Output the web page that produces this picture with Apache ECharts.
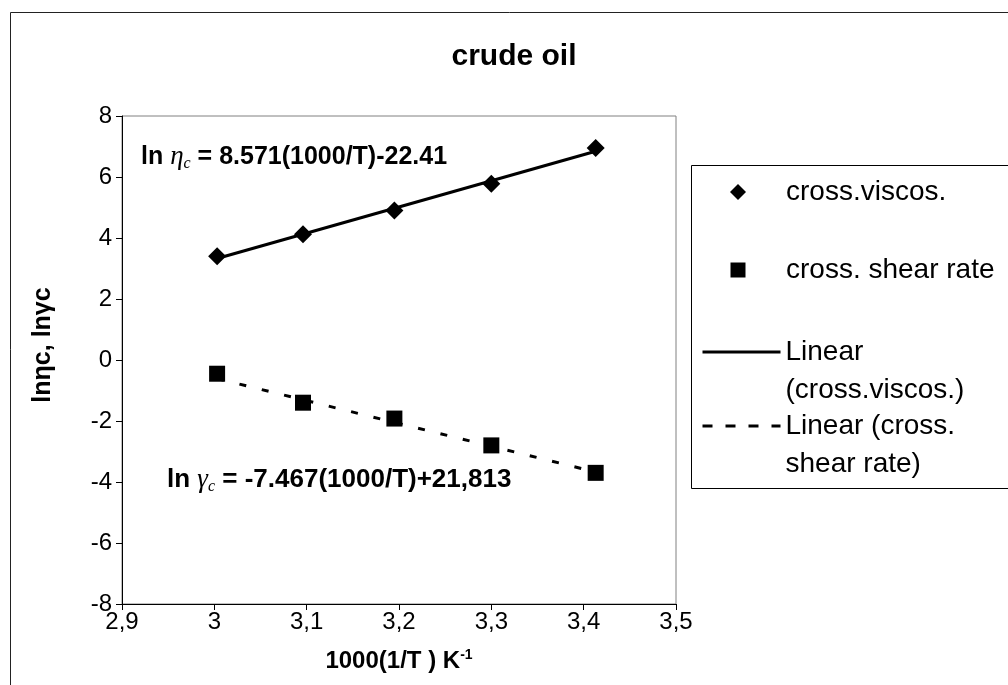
<!DOCTYPE html>
<html>
<head>
<meta charset="utf-8">
<script src="https://cdn.jsdelivr.net/npm/echarts@6/dist/echarts.min.js"></script>
<style>
  html, body { margin: 0; padding: 0; background: #fff; }
  #chart { width: 1008px; height: 685px; }
</style>
</head>
<body>
<div id="chart"></div>
<script>
// Reciprocal temperature, 1000/T in K^-1
const xInvT = [3.003, 3.096, 3.195, 3.300, 3.413];
// ln of crossover viscosity
const lnEta = [3.40, 4.12, 4.90, 5.78, 6.95];
// ln of crossover shear rate
const lnGamma = [-0.45, -1.40, -1.92, -2.80, -3.70];
// Linear trend coefficients [slope, intercept]
const etaFit = [8.571, -22.41];
const gammaFit = [-7.467, 21.813];

const seriesNames = ['cross.viscos.', 'cross. shear rate', 'Linear (cross.viscos.)', 'Linear (cross. shear rate)'];
// legend captions, wrapped the way the legend box shows them
const legendText = {
  'cross.viscos.': '{t|cross.viscos.}',
  'cross. shear rate': '{t|cross. shear rate}',
  'Linear (cross.viscos.)': '\nLinear\n(cross.viscos.)',
  'Linear (cross. shear rate)': '\nLinear (cross.\nshear rate)'
};

const FONT = '"Liberation Sans", Arial, sans-serif';
const GREEK = '"Liberation Serif", "DejaVu Serif", serif';
const LEGEND_FONT = 28;
const LEGEND_LH = 38;

function trend(coef) {
  const x0 = xInvT[0], x1 = xInvT[xInvT.length - 1];
  return [[x0, coef[0] * x0 + coef[1]], [x1, coef[0] * x1 + coef[1]]];
}

const chart = echarts.init(document.getElementById('chart'), null, { renderer: 'canvas' });

function markerLegend(name, top, size) {
  return {
    data: [name],
    orient: 'vertical',
    left: 738 - size / 2,
    top: top,
    itemWidth: size,
    itemHeight: size,
    padding: 0,
    selectedMode: false,
    formatter: n => legendText[n],
    textStyle: {
      fontFamily: FONT, fontSize: LEGEND_FONT, color: '#000', lineHeight: LEGEND_LH,
      rich: {
        t: {
          fontFamily: FONT, fontSize: LEGEND_FONT, color: '#000', lineHeight: LEGEND_LH,
          padding: [0, 0, 0, 786 - (738 + size / 2) - 5]
        }
      }
    }
  };
}

function lineLegend(name, top, dash) {
  return {
    data: [name],
    orient: 'vertical',
    left: 701,
    top: top,
    itemWidth: 78,
    itemHeight: 14,
    padding: 0,
    selectedMode: false,
    formatter: n => legendText[n],
    itemStyle: { opacity: 0, color: 'transparent', borderWidth: 0 },
    lineStyle: { color: '#000', width: 3, type: dash },
    textStyle: { fontFamily: FONT, fontSize: LEGEND_FONT, color: '#000', lineHeight: LEGEND_LH }
  };
}

const eqRich = {
  i: { fontFamily: GREEK, fontStyle: 'italic', fontSize: 27, fill: '#000', lineHeight: 30, verticalAlign: 'middle' },
  s: { fontFamily: GREEK, fontStyle: 'italic', fontSize: 16, fill: '#000', lineHeight: 30, verticalAlign: 'bottom' }
};

const option = {
  animation: false,
  backgroundColor: '#fff',
  grid: {
    left: 122, top: 116, right: 332, bottom: 81,
    show: true, borderColor: '#808080', borderWidth: 1, backgroundColor: '#fff'
  },
  xAxis: {
    type: 'value',
    min: 2.9, max: 3.5, interval: 0.1,
    name: '1000(1/T ) K{sup|-1}',
    nameLocation: 'middle',
    nameGap: 44,
    nameTextStyle: {
      fontFamily: FONT, fontSize: 24, fontWeight: 'bold', color: '#000',
      rich: { sup: { fontFamily: FONT, fontSize: 14, fontWeight: 'bold', color: '#000', verticalAlign: 'top', padding: [0, 0, 12, 0] } }
    },
    axisLine: { show: true, onZero: false, lineStyle: { color: '#000', width: 1 } },
    axisTick: { show: true, inside: false, length: 6, lineStyle: { color: '#000' } },
    splitLine: { show: false },
    axisLabel: {
      fontFamily: FONT, fontSize: 24, color: '#000', margin: 6,
      formatter: v => String(+v.toFixed(1)).replace('.', ',')
    }
  },
  yAxis: {
    type: 'value',
    min: -8, max: 8, interval: 2,
    axisLine: { show: true, onZero: false, lineStyle: { color: '#000', width: 1 } },
    axisTick: { show: true, inside: false, length: 6, lineStyle: { color: '#000' } },
    splitLine: { show: false },
    axisLabel: { fontFamily: FONT, fontSize: 24, color: '#000', margin: 10 }
  },
  legend: [
    markerLegend(seriesNames[0], 192 - LEGEND_LH / 2, 16),
    markerLegend(seriesNames[1], 270 - LEGEND_LH / 2, 15),
    lineLegend(seriesNames[2], 352 - LEGEND_LH * 1.5, 'solid'),
    lineLegend(seriesNames[3], 426 - LEGEND_LH * 1.5, [10, 13])
  ],
  series: [
    {
      name: seriesNames[0], type: 'scatter', z: 5,
      symbol: 'diamond', symbolSize: 18,
      itemStyle: { color: '#000', opacity: 1 },
      data: xInvT.map((x, i) => [x, lnEta[i]])
    },
    {
      name: seriesNames[1], type: 'scatter', z: 5,
      symbol: 'rect', symbolSize: 16,
      itemStyle: { color: '#000', opacity: 1 },
      data: xInvT.map((x, i) => [x, lnGamma[i]])
    },
    {
      name: seriesNames[2], type: 'line', z: 3,
      symbol: 'none', silent: true,
      lineStyle: { color: '#000', width: 3, type: 'solid' },
      itemStyle: { color: '#000' },
      data: trend(etaFit)
    },
    {
      name: seriesNames[3], type: 'line', z: 3,
      symbol: 'none', silent: true,
      lineStyle: { color: '#000', width: 3, type: [7, 16] },
      itemStyle: { color: '#000' },
      data: trend(gammaFit)
    }
  ],
  graphic: [
    {
      type: 'rect', silent: true, z: -10,
      shape: { x: 10.5, y: 12.5, width: 1100, height: 800 },
      style: { fill: 'none', stroke: '#222', lineWidth: 1 }
    },
    {
      type: 'rect', silent: true, z: -5,
      shape: { x: 691.5, y: 165.5, width: 400, height: 323 },
      style: { fill: '#fff', stroke: '#000', lineWidth: 1 }
    },
    {
      type: 'text', silent: true,
      x: 514, y: 57,
      style: {
        text: 'crude oil', fontFamily: FONT, fontSize: 30, fontWeight: 'bold',
        fill: '#000', align: 'center', verticalAlign: 'middle'
      }
    },
    {
      // y-axis title, written bottom-to-top
      type: 'text', silent: true,
      x: 43, y: 345, rotation: Math.PI / 2,
      style: {
        text: 'lnηc, lnγc', fontFamily: FONT, fontSize: 25, fontWeight: 'bold',
        fill: '#000', align: 'center', verticalAlign: 'middle'
      }
    },
    {
      type: 'text', silent: true,
      x: 141, y: 157,
      style: {
        text: 'ln {i|η}{s|c} = ' + etaFit[0].toFixed(3) + '(1000/T)' + etaFit[1].toFixed(2),
        fontFamily: FONT, fontSize: 25, fontWeight: 'bold', fill: '#000',
        align: 'left', verticalAlign: 'middle', lineHeight: 30,
        rich: eqRich
      }
    },
    {
      type: 'text', silent: true,
      x: 167, y: 480,
      style: {
        text: 'ln {i|γ}{s|c} = ' + gammaFit[0].toFixed(3) + '(1000/T)+' + gammaFit[1].toFixed(3).replace('.', ','),
        fontFamily: FONT, fontSize: 26, fontWeight: 'bold', fill: '#000',
        align: 'left', verticalAlign: 'middle', lineHeight: 30,
        rich: eqRich
      }
    }
  ]
};

chart.setOption(option);
</script>
</body>
</html>
